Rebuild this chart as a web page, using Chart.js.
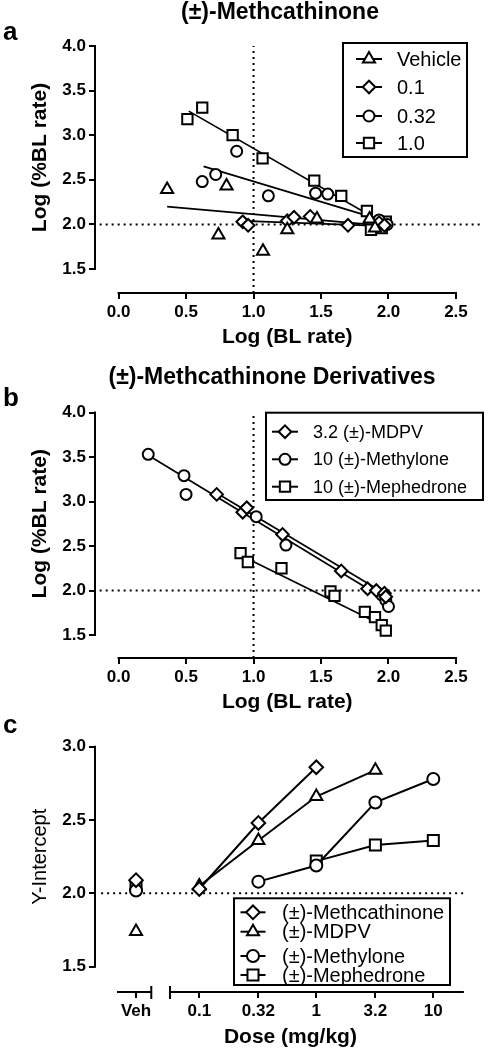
<!DOCTYPE html>
<html>
<head>
<meta charset="utf-8">
<script src="https://cdn.jsdelivr.net/npm/chart.js@4"></script>
<style>
    html, body { margin: 0; padding: 0; background: #fff; }
    #page { position: relative; width: 492px; height: 1050px; overflow: hidden; font-family: "Liberation Sans", Arial, sans-serif; color: #000; }
    canvas { position: absolute; left: 0; }
    .lbl { position: absolute; font-weight: bold; line-height: 1; white-space: nowrap; }
    .ttl { transform: translateX(-50%); }
</style>
</head>
<body>
<div id="page">
    <canvas id="chartA" width="492" height="360" style="top:0"></canvas>
    <canvas id="chartB" width="492" height="360" style="top:360px"></canvas>
    <canvas id="chartC" width="492" height="330" style="top:720px"></canvas>
    <div class="lbl" style="left:3px;top:18px;font-size:26px">a</div>
    <div class="lbl" style="left:3px;top:384px;font-size:26px">b</div>
    <div class="lbl" style="left:3px;top:711px;font-size:26px">c</div>
    <div class="lbl ttl" style="left:280px;top:0px;font-size:23px">(±)-Methcathinone</div>
    <div class="lbl ttl" style="left:272px;top:365px;font-size:23px">(±)-Methcathinone Derivatives</div>
</div>
<script>
(function () {
    // ---- tick values ----
    const logRateTicks = [0, 0.5, 1, 1.5, 2, 2.5];
    const pctRateTicks = [1.5, 2, 2.5, 3, 3.5, 4];
    const interceptTicks = [1.5, 2, 2.5, 3];

    // ---- panel a: (±)-Methcathinone, one array pair per dose ----
    const aLabels = ["Vehicle", "0.1", "0.32", "1.0"];
    const aVehX = [0.36, 0.74, 0.80, 1.07, 1.25, 1.47, 1.86, 1.90];
    const aVehY = [2.39, 1.88, 2.43, 1.70, 1.94, 2.06, 2.06, 1.96];
    const aLowX = [0.92, 0.96, 1.25, 1.30, 1.42, 1.70, 1.93, 1.97];
    const aLowY = [2.03, 1.99, 2.04, 2.08, 2.09, 1.99, 2.02, 1.99];
    const aMidX = [0.62, 0.72, 0.875, 1.11, 1.46, 1.55, 1.93, 1.99];
    const aMidY = [2.48, 2.56, 2.82, 2.32, 2.35, 2.34, 2.05, 2.00];
    const aHighX = [0.51, 0.62, 0.845, 1.067, 1.45, 1.65, 1.84, 1.87, 1.95, 1.98];
    const aHighY = [3.18, 3.31, 3.00, 2.74, 2.49, 2.32, 2.15, 1.94, 1.96, 2.03];
    // regression lines (start / end)
    const aFitX = [[0.36, 2.0], [0.92, 1.98], [0.63, 1.97], [0.52, 1.98]];
    const aFitY = [[2.20, 1.98], [2.04, 1.98], [2.65, 2.04], [3.27, 2.00]];

    // ---- panel b: derivatives ----
    const bLabels = ["3.2 (±)-MDPV", "10 (±)-Methylone", "10 (±)-Mephedrone"];
    const bMdpvX = [0.727, 0.92, 0.95, 1.215, 1.65, 1.845, 1.91, 1.97, 1.98];
    const bMdpvY = [3.08, 2.88, 2.93, 2.63, 2.22, 2.02, 2.00, 1.97, 1.93];
    const bMethyloneX = [0.22, 0.485, 0.50, 1.02, 1.24, 1.95, 1.98, 2.00];
    const bMethyloneY = [3.53, 3.29, 3.08, 2.83, 2.51, 1.95, 1.89, 1.82];
    const bMephX = [0.904, 0.958, 1.207, 1.57, 1.60, 1.825, 1.90, 1.95, 1.98];
    const bMephY = [2.42, 2.32, 2.25, 1.99, 1.94, 1.76, 1.70, 1.61, 1.55];
    const bFitX = [[0.72, 2.0], [0.22, 2.0], [0.90, 2.0]];
    const bFitY = [[3.10, 1.94], [3.52, 1.88], [2.40, 1.575]];

    // ---- panel c: Y-intercept vs dose ----
    const cLabels = ["(±)-Methcathinone", "(±)-MDPV", "(±)-Methylone", "(±)-Mephedrone"];
    const doses = [0.1, 0.32, 1, 3.2, 10];
    const doseLabels = ["Veh", "0.1", "0.32", "1", "3.2", "10"];
    const cMethcathinone = [2.03, 2.48, 2.86, null, null];
    const cMdpv = [2.05, 2.36, 2.66, 2.84, null];
    const cMethylone = [null, 2.08, 2.19, 2.62, 2.78];
    const cMephedrone = [null, null, 2.22, 2.33, 2.36];
    const cVehicle = [2.09, 1.74, 2.02, 2.05];

    // reference levels
    const refRate = 1.0;
    const refPct = 2.0;

    // ---- layout (pixels / placement only) ----
    const vehPos = 0.0288; // where "Veh" sits on the dose axis
    const cSegments = [[0.0202, 0.0389], [0.0562, 17.9]];
    const cBreaks = [0.0389, 0.0562];
    const FONT = "'Liberation Sans', Arial, sans-serif";

    Chart.defaults.font.family = FONT;
    Chart.defaults.color = "#000";

    function pts(xs, ys) {
        return xs.map((x, i) => ({ x: x, y: ys[i] }));
    }

    function markers(xs, ys, style, r) {
        return {
            data: pts(xs, ys),
            showLine: false,
            pointStyle: style,
            pointRadius: r,
            pointBackgroundColor: "#fff",
            pointBorderColor: "#000",
            pointBorderWidth: 2,
            order: 1,
            clip: false,
        };
    }

    function fitLine(xs, ys) {
        return {
            data: pts(xs, ys),
            showLine: true,
            pointRadius: 0,
            borderColor: "#000",
            borderWidth: 1.7,
            order: 2,
            clip: false,
        };
    }

    function dotted(xs, ys) {
        return {
            data: pts(xs, ys),
            showLine: true,
            pointRadius: 0,
            borderColor: "#000",
            borderWidth: 2,
            borderDash: [2, 4],
            order: 3,
            clip: false,
        };
    }

    function drawMarker(ctx, style, x, y, r) {
        ctx.beginPath();
        if (style === "circle") {
            ctx.arc(x, y, r, 0, Math.PI * 2);
        } else if (style === "rect") {
            const s = r * Math.SQRT1_2;
            ctx.rect(x - s, y - s, 2 * s, 2 * s);
        } else if (style === "rectRot") {
            ctx.moveTo(x - r, y);
            ctx.lineTo(x, y - r);
            ctx.lineTo(x + r, y);
            ctx.lineTo(x, y + r);
            ctx.closePath();
        } else {
            ctx.moveTo(x, y - r);
            ctx.lineTo(x + r * 0.866, y + r * 0.5);
            ctx.lineTo(x - r * 0.866, y + r * 0.5);
            ctx.closePath();
        }
        ctx.fill();
        ctx.stroke();
    }

    // Prism-style detached axes: lines only span the tick range
    const prismAxes = {
        id: "prismAxes",
        afterDraw(chart, args, o) {
            const ctx = chart.ctx;
            const area = chart.chartArea;
            const xs = chart.scales.x;
            const ys = chart.scales.y;
            const yTop = ys.getPixelForValue(ys.ticks[ys.ticks.length - 1].value);
            const yBot = ys.getPixelForValue(ys.ticks[0].value);
            ctx.save();
            ctx.strokeStyle = "#000";
            ctx.lineWidth = 2;
            ctx.beginPath();
            ctx.moveTo(area.left, yTop - 1);
            ctx.lineTo(area.left, yBot + 1);
            const segs = o.segments || [[xs.ticks[0].value, xs.ticks[xs.ticks.length - 1].value]];
            segs.forEach(function (s) {
                ctx.moveTo(xs.getPixelForValue(s[0]) - 1, area.bottom);
                ctx.lineTo(xs.getPixelForValue(s[1]) + 1, area.bottom);
            });
            (o.breaks || []).forEach(function (v) {
                const px = xs.getPixelForValue(v);
                ctx.moveTo(px, area.bottom - 6);
                ctx.lineTo(px, area.bottom + 7);
            });
            ctx.stroke();

            ctx.fillStyle = "#000";
            ctx.textAlign = "center";
            ctx.textBaseline = "middle";
            const x0 = xs.getPixelForValue(segs[0][0]);
            const x1 = xs.getPixelForValue(segs[segs.length - 1][1]);
            ctx.font = o.xFont;
            ctx.fillText(o.xTitle, (x0 + x1) / 2, o.xTitleY);
            ctx.translate(o.yTitleX, (yTop + yBot) / 2);
            ctx.rotate(-Math.PI / 2);
            ctx.font = o.yFont;
            ctx.fillText(o.yTitle, 0, 0);
            ctx.restore();
        },
    };

    // boxed legend with line-through markers, as in the figure
    const boxLegend = {
        id: "boxLegend",
        afterDraw(chart, args, o) {
            const ctx = chart.ctx;
            ctx.save();
            ctx.lineWidth = 2;
            ctx.strokeStyle = "#000";
            ctx.fillStyle = "#fff";
            ctx.fillRect(o.box[0], o.box[1], o.box[2], o.box[3]);
            ctx.strokeRect(o.box[0], o.box[1], o.box[2], o.box[3]);
            ctx.font = o.font;
            ctx.textBaseline = "middle";
            ctx.textAlign = "left";
            o.labels.forEach(function (label, i) {
                const y = o.rows[i];
                const ds = chart.data.datasets[o.sets[i]];
                ctx.lineWidth = 2;
                ctx.beginPath();
                ctx.moveTo(o.markerX - o.half, y);
                ctx.lineTo(o.markerX + o.half, y);
                ctx.stroke();
                ctx.fillStyle = "#fff";
                drawMarker(ctx, ds.pointStyle, o.markerX, y, ds.pointRadius);
                ctx.fillStyle = "#000";
                ctx.fillText(label, o.textX, y + 1);
            });
            ctx.restore();
        },
    };

    function valueAxis(min, max, ticks, size, fmt) {
        return {
            type: "linear",
            min: min,
            max: max,
            afterBuildTicks: function (s) {
                s.ticks = ticks.map((v) => ({ value: v }));
            },
            afterFit: function (s) {
                if (s.isHorizontal()) {
                    s.height = size;
                } else {
                    s.width = size;
                }
            },
            border: { display: false },
            grid: { drawOnChartArea: false, color: "#000", lineWidth: 2, tickLength: 6 },
            ticks: {
                autoSkip: false,
                maxRotation: 0,
                padding: 3,
                color: "#000",
                font: { size: 17, weight: "bold" },
                callback: fmt,
            },
        };
    }

    const oneDecimal = (v) => Number(v).toFixed(1);

    function baseOptions(padTop, padRight) {
        return {
            responsive: false,
            animation: false,
            events: [],
            layout: { padding: { top: padTop, right: padRight, left: 0, bottom: 0 } },
            plugins: { legend: { display: false }, tooltip: { enabled: false } },
        };
    }

    // ---------- panel a ----------
    const aSets = [
        markers(aVehX, aVehY, "triangle", 7),
        markers(aLowX, aLowY, "rectRot", 6.3),
        markers(aMidX, aMidY, "circle", 5.5),
        markers(aHighX, aHighY, "rect", 7.3),
    ];
    aFitX.forEach((xs, i) => aSets.push(fitLine(xs, aFitY[i])));
    aSets.push(dotted([-0.14, 2.7], [refPct, refPct]));
    aSets.push(dotted([refRate, refRate], [1.231, 4.0]));

    const optsA = baseOptions(46, 2);
    optsA.scales = {
        x: valueAxis(-0.1745, 2.698, logRateTicks, 67, oneDecimal),
        y: valueAxis(1.231, 4.0, pctRateTicks, 95, oneDecimal),
    };
    optsA.plugins.prismAxes = {
        xTitle: "Log (BL rate)", xTitleY: 337, xFont: "bold 21px " + FONT,
        yTitle: "Log (%BL rate)", yTitleX: 40, yFont: "bold 21px " + FONT,
    };
    optsA.plugins.boxLegend = {
        box: [343, 43, 124, 114], rows: [59, 87, 116, 143], markerX: 369, half: 13, textX: 397,
        font: "20px " + FONT, labels: aLabels, sets: [0, 1, 2, 3],
    };
    new Chart(document.getElementById("chartA").getContext("2d"), {
        type: "scatter",
        data: { datasets: aSets },
        options: optsA,
        plugins: [prismAxes, boxLegend],
    });

    // ---------- panel b ----------
    const bSets = [
        markers(bMdpvX, bMdpvY, "rectRot", 6.3),
        markers(bMethyloneX, bMethyloneY, "circle", 5.5),
        markers(bMephX, bMephY, "rect", 7.3),
    ];
    bFitX.forEach((xs, i) => bSets.push(fitLine(xs, bFitY[i])));
    bSets.push(dotted([-0.14, 2.7], [refPct, refPct]));
    bSets.push(dotted([refRate, refRate], [1.2416, 4.0]));

    const optsB = baseOptions(52.5, 2);
    optsB.scales = {
        x: valueAxis(-0.1745, 2.698, logRateTicks, 62, oneDecimal),
        y: valueAxis(1.2416, 4.0, pctRateTicks, 95, oneDecimal),
    };
    optsB.plugins.prismAxes = {
        xTitle: "Log (BL rate)", xTitleY: 342, xFont: "bold 21px " + FONT,
        yTitle: "Log (%BL rate)", yTitleX: 40, yFont: "bold 21px " + FONT,
    };
    optsB.plugins.boxLegend = {
        box: [266, 52.7, 217, 87.3], rows: [71.7, 99.3, 126.7], markerX: 285, half: 13, textX: 313,
        font: "18px " + FONT, labels: bLabels, sets: [0, 1, 2],
    };
    new Chart(document.getElementById("chartB").getContext("2d"), {
        type: "scatter",
        data: { datasets: bSets },
        options: optsB,
        plugins: [prismAxes, boxLegend],
    });

    // ---------- panel c ----------
    function doseSeries(vals, veh, style, r) {
        const data = [{ x: vehPos, y: veh }, { x: vehPos, y: null }];
        doses.forEach((d, i) => data.push({ x: d, y: vals[i] }));
        return {
            data: data,
            showLine: true,
            spanGaps: false,
            borderColor: "#000",
            borderWidth: 2,
            pointStyle: style,
            pointRadius: r,
            pointBackgroundColor: "#fff",
            pointBorderColor: "#000",
            pointBorderWidth: 2,
            order: 1,
            clip: false,
        };
    }
    const cSets = [
        doseSeries(cMethcathinone, cVehicle[0], "rectRot", 6.8),
        doseSeries(cMdpv, cVehicle[1], "triangle", 7),
        doseSeries(cMethylone, cVehicle[2], "circle", 6),
        doseSeries(cMephedrone, cVehicle[3], "rect", 7.8),
    ];
    cSets.push(dotted([0.0145, 18.6], [refPct, refPct]));

    const optsC = baseOptions(26.7, 27);
    const cx = valueAxis(0.01285, 18.66, [vehPos].concat(doses), 58, (v, i) => doseLabels[i]);
    cx.type = "logarithmic";
    cx.ticks.major = { enabled: false };
    optsC.scales = {
        x: cx,
        y: valueAxis(1.3275, 3.0, interceptTicks, 95, oneDecimal),
    };
    optsC.plugins.prismAxes = {
        segments: cSegments, breaks: cBreaks,
        xTitle: "Dose (mg/kg)", xTitleY: 317, xFont: "bold 21px " + FONT,
        yTitle: "Y-Intercept", yTitleX: 40, yFont: "20px " + FONT,
    };
    optsC.plugins.boxLegend = {
        box: [234, 178.3, 216, 86.7], rows: [192.3, 211.7, 236, 255], markerX: 253, half: 12.5, textX: 282,
        font: "20px " + FONT, labels: cLabels, sets: [0, 1, 2, 3],
    };
    new Chart(document.getElementById("chartC").getContext("2d"), {
        type: "scatter",
        data: { datasets: cSets },
        options: optsC,
        plugins: [prismAxes, boxLegend],
    });
})();
</script>
</body>
</html>
